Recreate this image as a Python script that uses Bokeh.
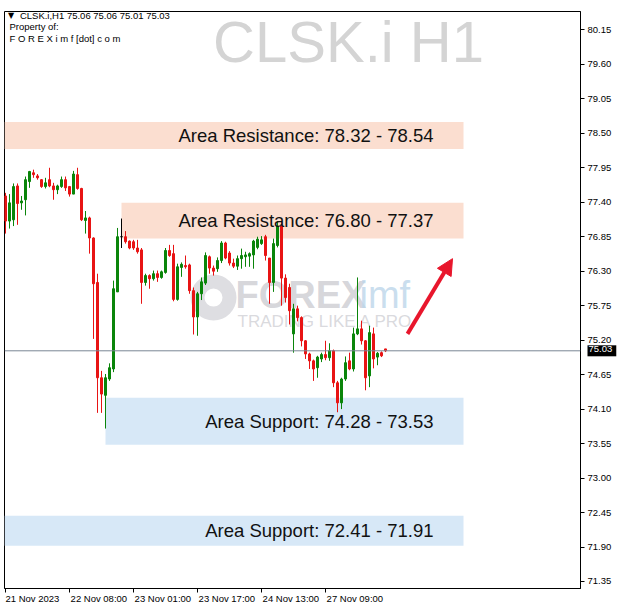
from bokeh.plotting import figure
from bokeh.models import (Range1d, FixedTicker, Span, Label, Arrow, NormalHead,
                          ColumnDataSource, PrintfTickFormatter, LinearAxis)
from bokeh.core.properties import value
from bokeh.embed import file_html
from bokeh.resources import INLINE

# ---------------- data ----------------
symbol = "CLSK.i"
timeframe = "H1"

opens = [77.50, 77.10, 77.12, 77.66, 77.39, 77.44, 77.73, 77.87, 77.82, 77.76,
         77.65, 77.76, 77.66, 77.60, 77.65, 77.76, 77.65, 77.53, 77.84, 77.62,
         77.11, 77.15, 76.83, 76.12, 74.60, 74.32, 74.58, 74.74, 75.97, 76.85,
         76.85, 76.78, 76.77, 76.67, 76.64, 76.12, 76.23, 76.18, 76.26, 76.20,
         76.28, 76.63, 76.58, 75.85, 76.36, 76.39, 76.40, 75.99, 75.57, 75.94,
         76.11, 76.53, 76.35, 76.34, 76.47, 76.75, 76.59, 76.43, 76.38, 76.50,
         76.53, 76.54, 76.56, 76.68, 76.74, 76.85, 76.51, 76.12, 76.71, 77.02,
         76.19, 76.04, 75.30, 75.70, 75.56, 75.19, 74.98, 74.87, 74.76, 74.90,
         74.97, 74.92, 75.03, 74.52, 74.20, 74.58, 74.87, 74.74, 75.30, 75.38,
         75.19, 74.63, 75.30, 74.93, 75.00, 75.06]
highs = [77.55, 77.53, 77.70, 77.70, 77.50, 77.81, 77.90, 77.92, 77.85, 77.77,
         77.79, 77.95, 77.71, 77.68, 77.81, 77.81, 77.66, 77.90, 77.95, 77.63,
         77.26, 77.17, 76.84, 76.26, 74.71, 74.66, 74.83, 76.15, 76.99, 77.14,
         76.94, 76.79, 76.80, 76.80, 76.67, 76.26, 76.25, 76.31, 76.31, 76.31,
         76.67, 76.72, 76.72, 76.42, 76.44, 76.55, 76.42, 76.04, 75.97, 76.20,
         76.60, 76.55, 76.39, 76.52, 76.78, 76.77, 76.62, 76.50, 76.55, 76.66,
         76.61, 76.60, 76.80, 76.85, 76.86, 76.88, 76.51, 76.82, 77.10, 77.10,
         76.25, 76.10, 75.78, 75.75, 75.58, 75.20, 75.00, 74.89, 74.95, 75.00,
         75.19, 75.15, 75.05, 74.55, 74.60, 74.94, 75.00, 75.40, 76.20, 75.51,
         75.20, 75.43, 75.40, 75.01, 75.02, 75.06]
lows = [76.90, 76.98, 77.02, 77.04, 77.28, 77.19, 77.63, 77.79, 77.76, 77.63,
        77.62, 77.64, 77.44, 77.53, 77.63, 77.58, 77.49, 77.53, 77.60, 77.10,
        76.90, 76.58, 75.22, 74.04, 74.04, 73.79, 74.55, 74.69, 75.97, 76.67,
        76.74, 76.65, 76.64, 76.58, 75.78, 76.07, 76.02, 76.15, 76.13, 76.18,
        76.26, 76.53, 75.82, 75.83, 76.21, 76.34, 75.94, 75.29, 75.27, 75.84,
        76.08, 76.26, 76.23, 76.29, 76.43, 76.49, 76.39, 76.35, 76.32, 76.34,
        76.37, 76.37, 76.34, 76.65, 76.72, 76.47, 75.78, 75.97, 76.68, 75.75,
        75.80, 75.45, 75.00, 75.50, 75.10, 74.90, 74.74, 74.55, 74.60, 74.85,
        74.88, 74.87, 74.45, 74.05, 74.10, 74.55, 74.72, 74.70, 75.28, 75.13,
        74.40, 74.45, 74.75, 74.80, 74.93, 75.01]
closes = [77.10, 77.39, 77.65, 77.38, 77.42, 77.76, 77.89, 77.84, 77.79, 77.65,
          77.71, 77.66, 77.60, 77.66, 77.76, 77.63, 77.53, 77.85, 77.62, 77.12,
          77.15, 76.83, 76.10, 74.60, 74.34, 74.60, 74.76, 76.02, 76.85, 76.85,
          76.77, 76.67, 76.67, 76.61, 76.12, 76.23, 76.18, 76.26, 76.20, 76.29,
          76.63, 76.55, 75.85, 76.37, 76.41, 76.37, 75.99, 75.57, 75.94, 76.13,
          76.55, 76.35, 76.30, 76.47, 76.75, 76.51, 76.43, 76.38, 76.50, 76.55,
          76.56, 76.58, 76.78, 76.81, 76.80, 76.55, 76.12, 76.74, 77.02, 76.19,
          75.88, 75.67, 75.70, 75.56, 75.19, 74.98, 74.87, 74.74, 74.93, 74.97,
          74.92, 75.03, 74.52, 74.20, 74.58, 74.84, 74.74, 75.30, 75.38, 75.19,
          74.60, 75.32, 74.90, 74.99, 74.95, 75.03]

time_tick_bars = [0, 16, 32, 48, 64, 80]
time_tick_labels = ["21 Nov 2023", "22 Nov 08:00", "23 Nov 01:00",
                    "23 Nov 17:00", "24 Nov 13:00", "27 Nov 09:00"]
price_ticks = [71.35, 71.90, 72.45, 73.00, 73.55, 74.10, 74.65, 75.20, 75.75,
               76.30, 76.85, 77.40, 77.95, 78.50, 79.05, 79.60, 80.15]

zone_names = ["Area Resistance", "Area Resistance", "Area Support", "Area Support"]
zone_label_a = [78.32, 76.80, 74.28, 72.41]
zone_label_b = [78.54, 77.37, 73.53, 71.91]
zone_bottom = [78.25, 76.82, 73.53, 71.92]
zone_top = [78.68, 77.39, 74.28, 72.40]
zone_start_bar = [-0.25, 29, 25, -0.25]
zone_end_bar = [114.5, 114.5, 114.5, 114.5]
zone_kind = ["res", "res", "sup", "sup"]

# ---------------- figure ----------------
GREEN = "#0a850a"
RED = "#e81414"
FONT = "Liberation Sans"
AX_FS = 9.5
PX_PER_BAR = 4.0

p = figure(width=621, height=606, output_backend="svg", toolbar_location=None,
           x_range=Range1d(-0.25, 143.75), y_range=Range1d(71.238, 80.443),
           y_axis_location="right", min_border_left=4, min_border_top=5,
           min_border_right=41, min_border_bottom=0)
p.xgrid.visible = False
p.ygrid.visible = False
p.outline_line_color = "black"
p.outline_line_alpha = 1.0
p.background_fill_color = "white"
p.border_fill_color = "white"

# watermark title
p.text(x=[85.75], y=[79.96], text=[f"{symbol} {timeframe}"],
       text_font=value(FONT), text_font_size="58px",
       text_color="#d4d4d4", text_align="center", text_baseline="middle")

# watermark logo
p.annulus(x=[52], y=[75.88], inner_radius=9, outer_radius=23,
          inner_radius_units="screen", outer_radius_units="screen",
          fill_color="#c8c8cf", fill_alpha=0.6, line_color=None)
p.text(x=[57.5], y=[75.92], text=["FOREX"], text_font=value(FONT),
       text_font_style="bold", text_font_size="38px", text_color="#c5c5cc",
       text_alpha=0.7, text_align="left", text_baseline="middle")
p.text(x=[88.5], y=[75.92], text=["imf"], text_font=value(FONT),
       text_font_size="38px", text_color="#bcd6ea", text_alpha=0.8,
       text_align="left", text_baseline="middle")
p.text(x=[58], y=[75.50], text=["TRADING LIKE A PRO"],
       text_font=value(FONT), text_font_size="17px",
       text_color="#d0d0d5", text_alpha=0.8, text_align="left",
       text_baseline="middle")

# zones
zone_colors = ["#fbded0" if k == "res" else "#d7e8f7" for k in zone_kind]
zsrc = ColumnDataSource(dict(left=zone_start_bar, right=zone_end_bar,
                             bottom=zone_bottom, top=zone_top, color=zone_colors))
p.quad(left="left", right="right", bottom="bottom", top="top", source=zsrc,
       fill_color="color", line_color=None)

# current price line
p.add_layout(Span(location=closes[-1], dimension="width", line_color="#7a8794",
                  line_width=1))

# candles
idx = list(range(len(opens)))
colors = []
for o, c in zip(opens, closes):
    if c > o:
        colors.append(GREEN)
    elif c < o:
        colors.append(RED)
    else:
        colors.append("black")
csrc = ColumnDataSource(dict(x=idx, o=opens, h=highs, l=lows, c=closes,
                             top=[max(a, b) for a, b in zip(opens, closes)],
                             bot=[min(a, b) for a, b in zip(opens, closes)],
                             color=colors))
p.segment(x0="x", y0="l", x1="x", y1="h", source=csrc, line_color="color",
          line_width=1)
p.vbar(x="x", top="top", bottom="bot", width=0.5, source=csrc,
       fill_color="color", line_color="color", line_width=1)

# zone labels
zone_texts = [f"{n}: {a:.2f} - {b:.2f}" for n, a, b in
              zip(zone_names, zone_label_a, zone_label_b)]
p.text(x=[107] * 4, y=[(b + t) / 2 for b, t in zip(zone_bottom, zone_top)],
       text=zone_texts, text_font=value(FONT),
       text_font_size="18.5px", text_color="#111111", text_align="right",
       text_baseline="middle")

# arrow
p.add_layout(Arrow(end=NormalHead(size=16, fill_color="#e8162c",
                                  line_color="#e8162c"),
                   x_start=100.5, y_start=75.30, x_end=111.75, y_end=76.50,
                   line_color="#e8162c", line_width=4))

# header
hdr = f"{opens[-1]:.2f} {highs[-1]:.2f} {lows[-1]:.2f} {closes[-1]:.2f}"
p.text(x=[0.6], y=[80.381], text=["\u25BC"], text_font=value("DejaVu Sans"),
       text_font_size="8px", text_color="black", text_align="left",
       text_baseline="middle")
p.text(x=[3.6], y=[80.381], text=[f"{symbol},{timeframe}  {hdr}"],
       text_font=value(FONT), text_font_size="9.5px",
       text_color="black", text_align="left", text_baseline="middle")
p.text(x=[1.0], y=[80.198], text=["Property of:"],
       text_font=value(FONT), text_font_size="9.5px",
       text_color="black", text_align="left", text_baseline="middle")
p.text(x=[1.0], y=[80.007], text=["F O R E X i m f [dot] c o m"],
       text_font=value(FONT), text_font_size="9.5px",
       text_color="black", text_align="left", text_baseline="middle")

# x axis: tick marks only
p.xaxis.ticker = FixedTicker(ticks=time_tick_bars)
p.xaxis.major_label_overrides = {b: "" for b in time_tick_bars}
p.xaxis.major_label_text_font_size = "1px"
p.xaxis.major_tick_out = 4
p.xaxis.major_tick_in = 0
p.xaxis.minor_tick_line_color = None
p.xaxis.major_label_standoff = 0
p.xaxis.axis_line_color = "black"
p.xaxis.major_tick_line_color = "black"

# x axis: labels starting at the tick marks (MetaTrader style)
label_centers = [b + 0.5 * len(l) * 0.515 * AX_FS / PX_PER_BAR
                 for b, l in zip(time_tick_bars, time_tick_labels)]
lab_axis = LinearAxis(ticker=FixedTicker(ticks=label_centers),
                      major_label_overrides={c: l for c, l in zip(label_centers, time_tick_labels)},
                      major_label_text_font=FONT,
                      major_label_text_font_size=f"{AX_FS}px",
                      major_label_text_color="black",
                      major_label_standoff=0, major_tick_out=0, major_tick_in=0,
                      major_tick_line_color=None, minor_tick_line_color=None,
                      axis_line_color=None)
p.add_layout(lab_axis, "below")

# y axis
p.yaxis.ticker = FixedTicker(ticks=price_ticks)
p.yaxis.formatter = PrintfTickFormatter(format="%.2f")
p.yaxis.major_label_text_font = FONT
p.yaxis.major_label_text_font_size = f"{AX_FS}px"
p.yaxis.major_label_text_color = "black"
p.yaxis.major_tick_out = 4
p.yaxis.major_tick_in = 0
p.yaxis.minor_tick_line_color = None
p.yaxis.major_label_standoff = 3
p.yaxis.axis_line_color = "black"
p.yaxis.major_tick_line_color = "black"

# current price tag on the axis (side-panel annotation so it is not clipped)
p.add_layout(Label(x=145.5, y=closes[-1], text=f"{closes[-1]:.2f}",
                   text_font=FONT, text_font_size=f"{AX_FS}px",
                   text_color="white", text_baseline="middle",
                   background_fill_color="black", background_fill_alpha=1.0,
                   padding=(1, 4, 1, 4)), "above")

open("out.html", "w").write(file_html(p, INLINE))
